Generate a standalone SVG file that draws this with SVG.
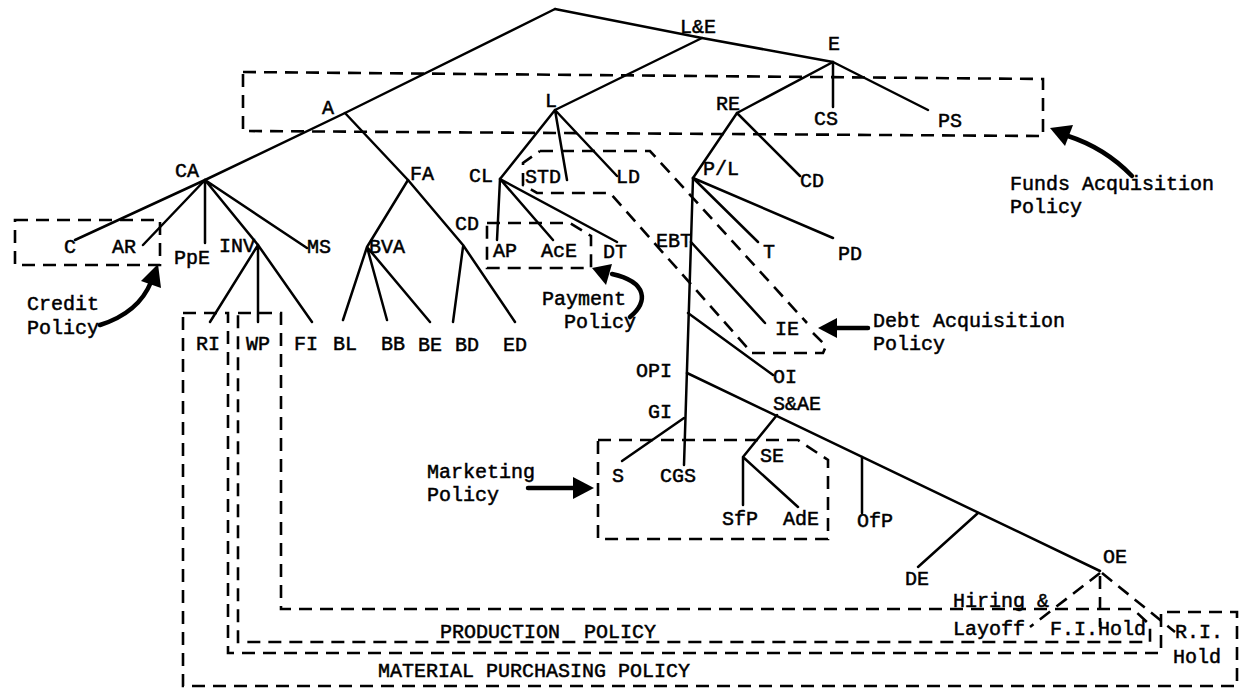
<svg xmlns="http://www.w3.org/2000/svg" width="1249" height="698" viewBox="0 0 1249 698">
<style>
.t{stroke:#000;stroke-width:2.5;fill:none;stroke-linecap:round;stroke-linejoin:round}
.d{stroke:#000;stroke-width:2.6;fill:none;stroke-dasharray:13 8}
.n{font-family:"Liberation Mono",monospace;font-size:20px;fill:#000;stroke:#000;stroke-width:0.5}
.p{font-family:"Liberation Mono",monospace;font-size:20px;fill:#000;stroke:#000;stroke-width:0.5}
.a{stroke:#000;stroke-width:4.5;fill:none;stroke-linecap:round}
.h{fill:#000;stroke:none}
</style>
<rect width="1249" height="698" fill="#fff"/>
<g id="connectors">
<path class="t" d="M555,9 L345,113 L205,180 L75,240"/>
<path class="t" d="M555,9 L702,38 L833,62 L928,110"/>
<path class="t" d="M702,38 L555,110"/>
<path class="t" d="M833,62 L737,113 M833,62 L833,107"/>
<path class="t" d="M555,110 L500,179 M555,110 L567,180 M555,110 L617,176"/>
<path class="t" d="M737,113 L693,178 M737,113 L800,176"/>
<path class="t" d="M345,113 L408,180 L463,245 L515,322"/>
<path class="t" d="M408,180 L367,247 M367,247 L343,320 M367,247 L387,320 M367,247 L430,322"/>
<path class="t" d="M463,247 L453,322"/>
<path class="t" d="M205,180 L143,245 M205,180 L205,243 M205,180 L258,245 M205,180 L307,248"/>
<path class="t" d="M258,245 L210,322 M258,245 L258,322 M258,245 L312,322"/>
<path class="t" d="M500,179 L497,240 M500,179 L553,240 M500,179 L617,242"/>
<path class="t" d="M693,178 L684,465"/>
<path class="t" d="M693,178 L758,242 M693,178 L833,238"/>
<path class="t" d="M691,242 L765,323"/>
<path class="t" d="M688,313 L773,375"/>
<path class="t" d="M687,373 L1100,571"/>
<path class="t" d="M862,457 L862,513"/>
<path class="t" d="M978,513 L918,567"/>
<path class="t" d="M777,415 L743,457 L743,505 M743,457 L798,507"/>
<path class="t" d="M684,418 L622,461"/>
<path class="d" d="M1100,573 L1030,627 M1100,576 L1100,627 M1102,573 L1175,632"/>
</g>
<g id="nodes">
<g id="n-LE"><text class="n" x="680" y="33">L&amp;E</text></g>
<g id="n-E"><text class="n" x="828" y="50">E</text></g>
<g id="n-A"><text class="n" x="322" y="114">A</text></g>
<g id="n-L"><text class="n" x="545" y="107">L</text></g>
<g id="n-RE"><text class="n" x="716" y="110">RE</text></g>
<g id="n-CS"><text class="n" x="814" y="125">CS</text></g>
<g id="n-PS"><text class="n" x="938" y="127">PS</text></g>
<g id="n-CA"><text class="n" x="175" y="177">CA</text></g>
<g id="n-FA"><text class="n" x="410" y="180">FA</text></g>
<g id="n-CL"><text class="n" x="469" y="182">CL</text></g>
<g id="n-STD"><text class="n" x="525" y="183">STD</text></g>
<g id="n-LD"><text class="n" x="616" y="183">LD</text></g>
<g id="n-PL"><text class="n" x="703" y="175">P/L</text></g>
<g id="n-CD2"><text class="n" x="800" y="187">CD</text></g>
<g id="n-CD1"><text class="n" x="455" y="230">CD</text></g>
<g id="n-C"><text class="n" x="64" y="253">C</text></g>
<g id="n-AR"><text class="n" x="112" y="253">AR</text></g>
<g id="n-PpE"><text class="n" x="174" y="264">PpE</text></g>
<g id="n-INV"><text class="n" x="219" y="252">INV</text></g>
<g id="n-MS"><text class="n" x="307" y="253">MS</text></g>
<g id="n-BVA"><text class="n" x="369" y="253">BVA</text></g>
<g id="n-RI"><text class="n" x="196" y="350">RI</text></g>
<g id="n-WP"><text class="n" x="246" y="350">WP</text></g>
<g id="n-FI"><text class="n" x="294" y="350">FI</text></g>
<g id="n-BL"><text class="n" x="333" y="350">BL</text></g>
<g id="n-BB"><text class="n" x="381" y="350">BB</text></g>
<g id="n-BE"><text class="n" x="418" y="351">BE</text></g>
<g id="n-BD"><text class="n" x="455" y="351">BD</text></g>
<g id="n-ED"><text class="n" x="503" y="351">ED</text></g>
<g id="n-AP"><text class="n" x="493" y="257">AP</text></g>
<g id="n-AcE"><text class="n" x="541" y="257">AcE</text></g>
<g id="n-DT"><text class="n" x="603" y="258">DT</text></g>
<g id="n-EBT"><text class="n" x="656" y="247">EBT</text></g>
<g id="n-T"><text class="n" x="763" y="258">T</text></g>
<g id="n-PD"><text class="n" x="838" y="260">PD</text></g>
<g id="n-IE"><text class="n" x="775" y="335">IE</text></g>
<g id="n-OI"><text class="n" x="773" y="383">OI</text></g>
<g id="n-OPI"><text class="n" x="636" y="377">OPI</text></g>
<g id="n-SAE"><text class="n" x="773" y="410">S&amp;AE</text></g>
<g id="n-GI"><text class="n" x="648" y="418">GI</text></g>
<g id="n-SE"><text class="n" x="760" y="462">SE</text></g>
<g id="n-S"><text class="n" x="612" y="482">S</text></g>
<g id="n-CGS"><text class="n" x="660" y="482">CGS</text></g>
<g id="n-SfP"><text class="n" x="722" y="525">SfP</text></g>
<g id="n-AdE"><text class="n" x="783" y="525">AdE</text></g>
<g id="n-OfP"><text class="n" x="857" y="527">OfP</text></g>
<g id="n-DE"><text class="n" x="905" y="585">DE</text></g>
<g id="n-OE"><text class="n" x="1103" y="563">OE</text></g>
</g>
<g id="funds-policy">
<path class="d" d="M243,72 L1043,79 L1043,136 L243,131 Z"/>
<path class="a" d="M1132,176 Q1105,148 1068,136"/>
<polygon class="h" points="1050,128 1073,125 1065,146"/>
<text class="p" x="1010" y="190">Funds Acquisition</text>
<text class="p" x="1010" y="213">Policy</text>
</g>
<g id="credit-policy">
<path class="d" d="M15,220 L160,220 L160,265 L15,265 Z"/>
<path class="a" d="M100,325 C125,317 143,302 151,282"/>
<polygon class="h" points="158,264 141,281 161,288"/>
<text class="p" x="27" y="310">Credit</text>
<text class="p" x="27" y="334">Policy</text>
</g>
<g id="payment-policy">
<path class="d" d="M487,223 L570,223 L591,236 L591,268 L487,268 Z"/>
<path class="a" d="M630,317 C648,302 648,282 612,274"/>
<polygon class="h" points="592,268 612,264 606,285"/>
<text class="p" x="542" y="305">Payment</text>
<text class="p" x="564" y="328">Policy</text>
</g>
<g id="debt-policy">
<path class="d" d="M540,151 L650,151 L807,323 M813,333 L826,346 L823,353 L752,353 L610,193 L537,193 L523,185 L523,163 L540,151"/>
<path class="a" d="M868,328 L834,328"/>
<polygon class="h" points="818,328 837,318 837,338"/>
<text class="p" x="873" y="327">Debt Acquisition</text>
<text class="p" x="873" y="350">Policy</text>
</g>
<g id="marketing-policy">
<path class="d" d="M598,440 L798,440 L828,460 L828,539 L598,539 Z"/>
<path class="a" d="M528,488 L576,488"/>
<polygon class="h" points="594,488 573,477 573,499"/>
<text class="p" x="427" y="478">Marketing</text>
<text class="p" x="427" y="501">Policy</text>
</g>
<g id="production-policy">
<path class="d" d="M238,313 L281,313 L281,609 L1133,609 L1150,625 L1150,642 L238,642 Z"/>
<text class="p" x="440" y="638" word-spacing="12">PRODUCTION POLICY</text>
<text class="p" x="953" y="607">Hiring &amp;</text>
<text class="p" x="953" y="635">Layoff</text>
<text class="p" x="1050" y="635">F.I.Hold</text>
</g>
<g id="material-purchasing-policy">
<path class="d" d="M183,313 L228,313 L228,653 L1161,653 L1161,612 L1237,612 L1237,686 L183,686 Z"/>
<text class="p" x="378" y="677">MATERIAL PURCHASING POLICY</text>
<text class="p" x="1175" y="638">R.I.</text>
<text class="p" x="1173" y="663">Hold</text>
</g>
</svg>
